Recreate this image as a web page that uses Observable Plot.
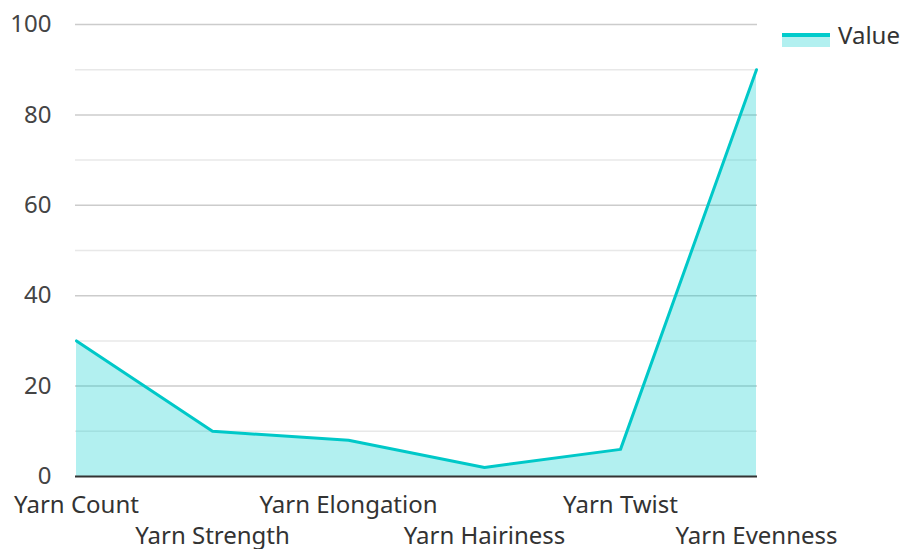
<!DOCTYPE html>
<html><head><meta charset="utf-8">
<script src="https://cdn.jsdelivr.net/npm/d3@7"></script>
<script src="https://cdn.jsdelivr.net/npm/@observablehq/plot@0.6"></script>
<style>
body{margin:0;background:#fff;font-family:"Noto Sans",sans-serif;}
#wrap{position:relative;width:900px;height:549px;}
#legend{position:absolute;left:782px;top:18px;display:flex;align-items:center;font-size:24px;color:#333;}
#legend .sw{width:48px;height:14px;position:relative;margin-right:8px;margin-top:10px}
#legend .sw .fill{position:absolute;left:0;top:2px;width:48px;height:12px;background:rgba(0,204,204,0.3)}
#legend .sw .ln{position:absolute;left:0;top:0;width:48px;height:4px;background:#00cccc}
</style></head>
<body><div id="wrap"><div id="chart"></div><div id="legend"><div class="sw"><div class="fill"></div><div class="ln"></div></div><span>Value</span></div></div>
<script>
const categories = ["Yarn Count","Yarn Strength","Yarn Elongation","Yarn Hairiness","Yarn Twist","Yarn Evenness"];
const values = [30,10,8,2,6,90];
const majorTicks = [20,40,60,80,100];
const minorTicks = [10,30,50,70,90];
const yTicks = [0,20,40,60,80,100];
const data = categories.map((c,i)=>({category:c, value:values[i]}));
const row1 = categories.filter((c,i)=>i%2===0);
const row2 = categories.filter((c,i)=>i%2===1);

const plot = Plot.plot({
  width:900, height:549,
  marginLeft:75, marginRight:143, marginTop:24, marginBottom:73,
  style:{fontFamily:"Noto Sans", fontSize:"24px", color:"#444", background:"#fff"},
  x:{type:"point", domain:categories, padding:0},
  y:{domain:[0,100]},
  marks:[
    Plot.ruleY(minorTicks,{stroke:"#e8e8e8", strokeWidth:1.5}),
    Plot.ruleY(majorTicks,{stroke:"#cccccc", strokeWidth:1.5}),
    Plot.areaY(data,{x:"category", y:"value", fill:"#00cccc", fillOpacity:0.3}),
    Plot.lineY(data,{x:"category", y:"value", stroke:"#00c8c8", strokeWidth:3}),
    Plot.ruleY([0],{stroke:"#333", strokeWidth:2}),
    Plot.axisY(yTicks,{tickSize:0, tickPadding:24, fontSize:24, fill:"#444", label:null}),
    Plot.axisX(row1,{tickSize:0, tickPadding:19, fontSize:24, fill:"#333", label:null}),
    Plot.axisX(row2,{tickSize:0, tickPadding:50, fontSize:24, fill:"#333", label:null})
  ]
});
document.getElementById("chart").appendChild(plot);
</script></body></html>
